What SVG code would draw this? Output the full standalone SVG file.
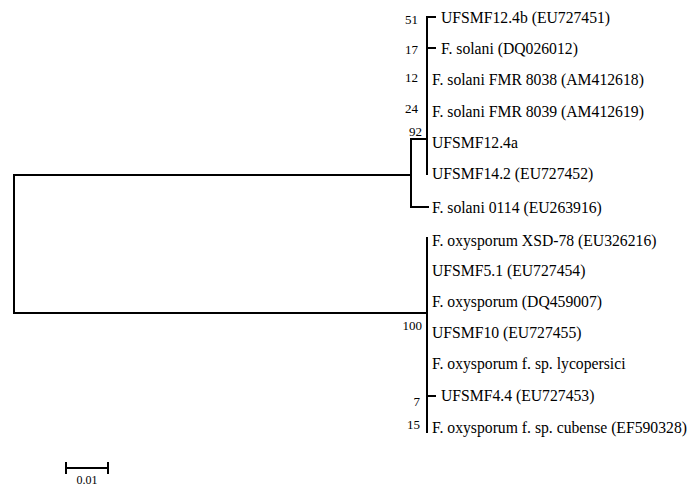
<svg xmlns="http://www.w3.org/2000/svg" width="694" height="486" viewBox="0 0 694 486">
<style>
.br{stroke:#000;stroke-width:2;fill:none;stroke-linecap:square}
.lf{font-family:"Liberation Serif","Times New Roman",serif;font-size:15.7px;fill:#000;dominant-baseline:central}
.bs{font-family:"Liberation Serif","Times New Roman",serif;font-size:13px;fill:#000;text-anchor:end}
.sc{font-family:"Liberation Serif","Times New Roman",serif;font-size:12px;fill:#000;text-anchor:middle}
</style>
<rect width="694" height="486" fill="#fff"/>
<g id="connectors">
<path class="br" d="M14,175V313M14,175H411M14,313H427"/>
<path class="br" d="M411,139V207M411,139H427M411,207H428"/>
<path class="br" d="M427,17V174M427,17H435M427,48H435"/>
<path class="br" d="M427,238V432M427,396H435"/>
</g>
<g id="scale">
<path class="br" d="M66,468H108M66,463V473M108,463V473" stroke-width="1.5"/>
<text class="sc" x="87" y="484">0.01</text>
</g>
<g id="bootstrap">
<text class="bs" x="418" y="24">51</text>
<text class="bs" x="418" y="54">17</text>
<text class="bs" x="418" y="82">12</text>
<text class="bs" x="418" y="113">24</text>
<text class="bs" x="422" y="136">92</text>
<text class="bs" x="422" y="330">100</text>
<text class="bs" x="420" y="406">7</text>
<text class="bs" x="420" y="429">15</text>
</g>
<g id="n1"><text class="lf" x="441" y="17">UFSMF12.4b (EU727451)</text></g>
<g id="n2"><text class="lf" x="441" y="48">F. solani (DQ026012)</text></g>
<g id="n3"><text class="lf" x="432" y="79">F. solani FMR 8038 (AM412618)</text></g>
<g id="n4"><text class="lf" x="432" y="111">F. solani FMR 8039 (AM412619)</text></g>
<g id="n5"><text class="lf" x="432" y="142">UFSMF12.4a</text></g>
<g id="n6"><text class="lf" x="432" y="173">UFSMF14.2 (EU727452)</text></g>
<g id="n7"><text class="lf" x="432" y="207">F. solani 0114 (EU263916)</text></g>
<g id="n8"><text class="lf" x="432" y="240">F. oxysporum XSD-78 (EU326216)</text></g>
<g id="n9"><text class="lf" x="432" y="270">UFSMF5.1 (EU727454)</text></g>
<g id="n10"><text class="lf" x="432" y="301">F. oxysporum (DQ459007)</text></g>
<g id="n11"><text class="lf" x="432" y="332">UFSMF10 (EU727455)</text></g>
<g id="n12"><text class="lf" x="432" y="363">F. oxysporum f. sp. lycopersici</text></g>
<g id="n13"><text class="lf" x="441" y="395">UFSMF4.4 (EU727453)</text></g>
<g id="n14"><text class="lf" x="432" y="427">F. oxysporum f. sp. cubense (EF590328)</text></g>
</svg>
